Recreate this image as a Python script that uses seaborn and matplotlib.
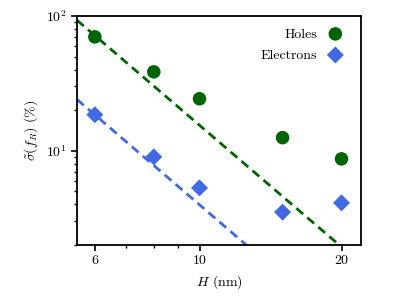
import numpy as np
import pandas as pd
import matplotlib
matplotlib.use("Agg")
import matplotlib.pyplot as plt
import seaborn as sns
from matplotlib.ticker import LogLocator, FixedLocator, NullFormatter, FixedFormatter

# ── Data ──────────────────────────────────────────────────────────────────────
thickness = [6, 8, 10, 15, 20]                 # H (nm)
holes = [70, 38.5, 24.3, 12.5, 8.7]            # sigma~(f_R) (%)
electrons = [18.5, 9.0, 5.3, 3.5, 4.1]

fit_x = [5.5, 22]                              # ends of the dashed guide lines
holes_fit = [93, 1.45]
electrons_fit = [24, 0.37]

# ── Style ─────────────────────────────────────────────────────────────────────
sns.set_style("ticks")
plt.rcParams['font.family'] = 'serif'
plt.rcParams['font.serif'] = ['cmr10', 'DejaVu Serif']
plt.rcParams['mathtext.fontset'] = 'cm'
plt.rcParams['axes.formatter.use_mathtext'] = True
plt.rcParams['axes.unicode_minus'] = False
for key in ['text.color', 'axes.labelcolor', 'axes.edgecolor',
            'xtick.color', 'ytick.color']:
    plt.rcParams[key] = 'black'

green = '#006400'
blue = '#4169E1'

fig, ax = plt.subplots(figsize=(3.95, 3.08), dpi=100)
fig.subplots_adjust(left=0.195, right=0.914, top=0.948, bottom=0.205)

df = pd.DataFrame({'H': thickness, 'Holes': holes, 'Electrons': electrons})
fit = pd.DataFrame({'H': fit_x, 'Holes': holes_fit, 'Electrons': electrons_fit})

sns.lineplot(data=fit, x='H', y='Holes', ax=ax, color=green, lw=2,
             linestyle=(0, (3.2, 2)), legend=False)
sns.lineplot(data=fit, x='H', y='Electrons', ax=ax, color=blue, lw=2,
             linestyle=(0, (3.2, 2)), legend=False)
sns.scatterplot(data=df, x='H', y='Holes', ax=ax, color=green, marker='o',
                s=95, edgecolor='none', label='Holes', zorder=3)
sns.scatterplot(data=df, x='H', y='Electrons', ax=ax, color=blue, marker='D',
                s=75, edgecolor='none', label='Electrons', zorder=3)

ax.set_xscale('log')
ax.set_yscale('log')
ax.set_xlim(5.5, 22)
ax.set_ylim(2, 100)

ax.xaxis.set_major_locator(FixedLocator([6, 10, 20]))
ax.xaxis.set_major_formatter(FixedFormatter(['6', '10', '20']))
ax.xaxis.set_minor_locator(FixedLocator([7, 8, 9]))
ax.xaxis.set_minor_formatter(NullFormatter())
ax.yaxis.set_major_locator(LogLocator(base=10))
ax.yaxis.set_minor_locator(LogLocator(base=10, subs=np.arange(2, 10)))
ax.yaxis.set_minor_formatter(NullFormatter())

ax.tick_params(which='major', direction='out', length=4, width=1.2, labelsize=10)
ax.tick_params(which='minor', direction='out', length=2.5, width=1)
for sp in ax.spines.values():
    sp.set_linewidth(1.3)
    sp.set_color('black')

ax.set_xlabel(r'$H$ (nm)', fontsize=10)
ax.set_ylabel(r'$\tilde{\sigma}(f_R)$ (%)', fontsize=10)

ax.legend(loc='upper right', frameon=False, markerfirst=False, fontsize=10,
          handletextpad=0.3, borderaxespad=0.45, labelspacing=0.6)

plt.savefig('out.png', dpi=100)
plt.close()
